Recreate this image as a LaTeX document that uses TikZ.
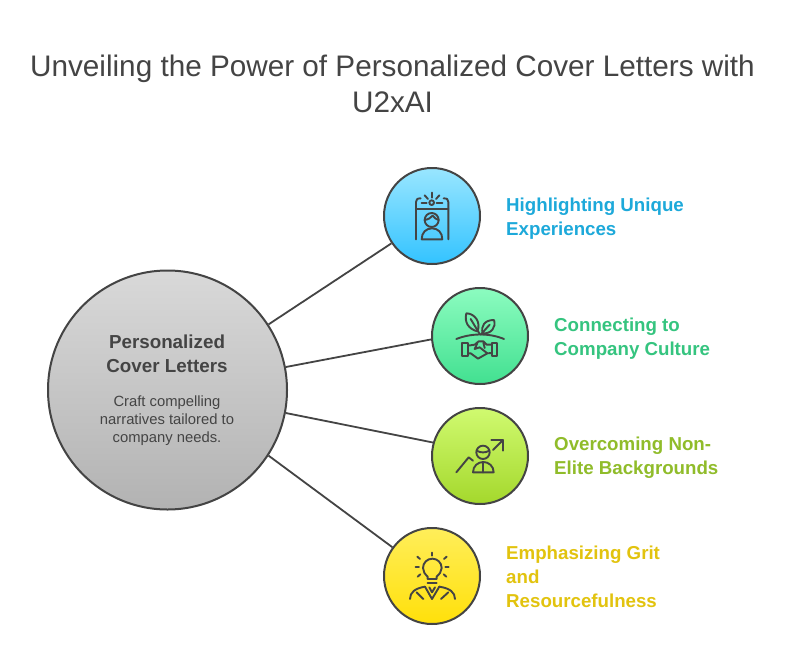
\documentclass[tikz,border=0pt]{standalone}
\usepackage{fontspec}
\setmainfont{Liberation Sans}
\definecolor{ink}{HTML}{444444}
\definecolor{bluet}{HTML}{1DA9DA}
\definecolor{greent}{HTML}{35C47F}
\definecolor{limet}{HTML}{90BC2A}
\definecolor{yellowt}{HTML}{E2C30E}
\tikzset{
  disc/.style={circle,draw=ink,line width=2pt,minimum size=#1,inner sep=0pt},
  link/.style={draw=ink,line width=1.8pt},
  head/.style={font=\fontsize{18.7}{24}\selectfont\bfseries,align=left,anchor=west,inner sep=0pt},
  icon/.style={draw=ink,line width=1.9pt,line cap=round,line join=round,x=0.3333pt,y=-0.3333pt},
}
\begin{document}
\begin{tikzpicture}[x=1pt,y=-1pt]
\useasboundingbox[fill=white] (0,0) rectangle (792,648);
\node[text=ink,font=\fontsize{29.7}{36}\selectfont,align=center,inner sep=0pt] (title) at (392.5,84) {Unveiling the Power of Personalized Cover Letters with\\U2xAI};
\node[disc=239pt,top color=black!15,bottom color=black!30] (main) at (167.5,390) {};
\node[disc=96pt,top color={rgb,255:red,153;green,230;blue,255},bottom color={rgb,255:red,51;green,195;blue,255}] (c1) at (432,216) {};
\node[disc=96pt,top color={rgb,255:red,140;green,252;blue,192},bottom color={rgb,255:red,66;green,224;blue,144}] (c2) at (480,336) {};
\node[disc=96pt,top color={rgb,255:red,208;green,250;blue,112},bottom color={rgb,255:red,164;green,216;blue,44}] (c3) at (480,456) {};
\node[disc=96pt,top color={rgb,255:red,255;green,238;blue,90},bottom color={rgb,255:red,255;green,224;blue,10}] (c4) at (432,576) {};
\draw[link] (main.33) -- (c1.214);
\draw[link] (main.11) -- (c2.184);
\draw[link] (main.-11) -- (c3.164);
\draw[link] (main.-33) -- (c4.144);
\node[text=ink,font=\fontsize{18.8}{24}\selectfont\bfseries,align=center,inner sep=0pt] (mt) at (167,354) {Personalized\\Cover Letters};
\node[text=ink,font=\fontsize{14.8}{18}\selectfont,align=center,inner sep=0pt] (md) at (167,420.5) {Craft compelling\\narratives tailored to\\company needs.};
\node[head,text=bluet] (t1) at (506,218.5) {Highlighting Unique\\Experiences};
\node[head,text=greent] (t2) at (554,338.5) {Connecting to\\Company Culture};
\node[head,text=limet] (t3) at (554,458) {Overcoming Non-\\Elite Backgrounds};
\node[head,text=yellowt] (t4) at (506,577) {Emphasizing Grit\\and\\Resourcefulness};
% icon 1
\begin{scope}[shift={(380pt,-160pt)},icon]
\draw (108,238) -- (108,126) .. controls (108,118) and (112,115) .. (122,115);
\draw (205,238) -- (205,126) .. controls (205,118) and (201,115) .. (191,115);
\draw (108,148) -- (205,148);
\draw (155,128) circle (7);
\draw (125,128) -- (140,128) (170,128) -- (187,128);
\draw (156,98) -- (156,113) (134,106) -- (144,117) (178,106) -- (168,117);
\draw (155,180) circle (21);
\draw (134,180) .. controls (145,178) and (152,174) .. (158,167) .. controls (163,175) and (170,178) .. (176,180);
\draw (125,238) .. controls (125,218) and (138,205) .. (156,205) .. controls (174,205) and (187,218) .. (187,238) -- cycle;
\end{scope}
% icon 2
\begin{scope}[shift={(428pt,-284pt)},icon]
\draw (115,88) .. controls (140,88) and (160,115) .. (148,142) .. controls (122,135) and (108,115) .. (115,88);
\draw (128,105) -- (155,150);
\draw (198,108) .. controls (170,108) and (158,125) .. (164,148) .. controls (190,150) and (205,130) .. (198,108);
\draw (158,152) -- (185,122);
\draw (85,165) .. controls (130,147) and (185,147) .. (228,165);
\draw (103,178) rectangle (120,217);
\draw (192,178) rectangle (208,217);
\draw (120,185) -- (140,182) -- (152,172) -- (166,172) -- (176,182) -- (192,182);
\draw (120,208) -- (128,208) -- (150,224) -- (178,208) -- (192,207);
\draw (148,178) -- (140,195) -- (155,190) -- (178,208);
\draw (166,176) -- (170,192);
\end{scope}
% icon 3
\begin{scope}[shift={(428pt,-404pt)},icon]
\draw (85,205) -- (122,160) -- (135,170);
\draw (195,138) -- (225,108);
\draw (190,107) -- (225,107) -- (225,140);
\draw (165,145) circle (20);
\draw (146,140) .. controls (158,147) and (172,147) .. (184,140);
\draw (135,205) .. controls (135,186) and (150,174) .. (166,174) .. controls (182,174) and (197,186) .. (197,205) -- cycle;
\draw (166,176) -- (166,205);
\end{scope}
% icon 4
\begin{scope}[shift={(380pt,-524pt)},icon]
\draw (143,165) -- (143,158) .. controls (135,150) and (129,143) .. (129,132) .. controls (129,116) and (142,104) .. (157,104) .. controls (172,104) and (185,116) .. (185,132) .. controls (185,143) and (178,150) .. (170,158) -- (170,165) -- cycle;
\draw (143,177) -- (170,177);
\draw (156,86) -- (156,95) (112,98) -- (120,105) (200,98) -- (192,105);
\draw (107,128) -- (117,128) (196,128) -- (206,128);
\draw (113,158) -- (121,151) (199,158) -- (191,151);
\draw (90,225) .. controls (90,205) and (105,193) .. (135,188);
\draw (225,225) .. controls (225,205) and (210,193) .. (178,188);
\draw (135,188) -- (156,225) -- (178,188);
\draw (148,190) -- (156,205) -- (165,190);
\draw (110,205) -- (130,225);
\draw (205,205) -- (183,225);
\end{scope}
\end{tikzpicture}
\end{document}
